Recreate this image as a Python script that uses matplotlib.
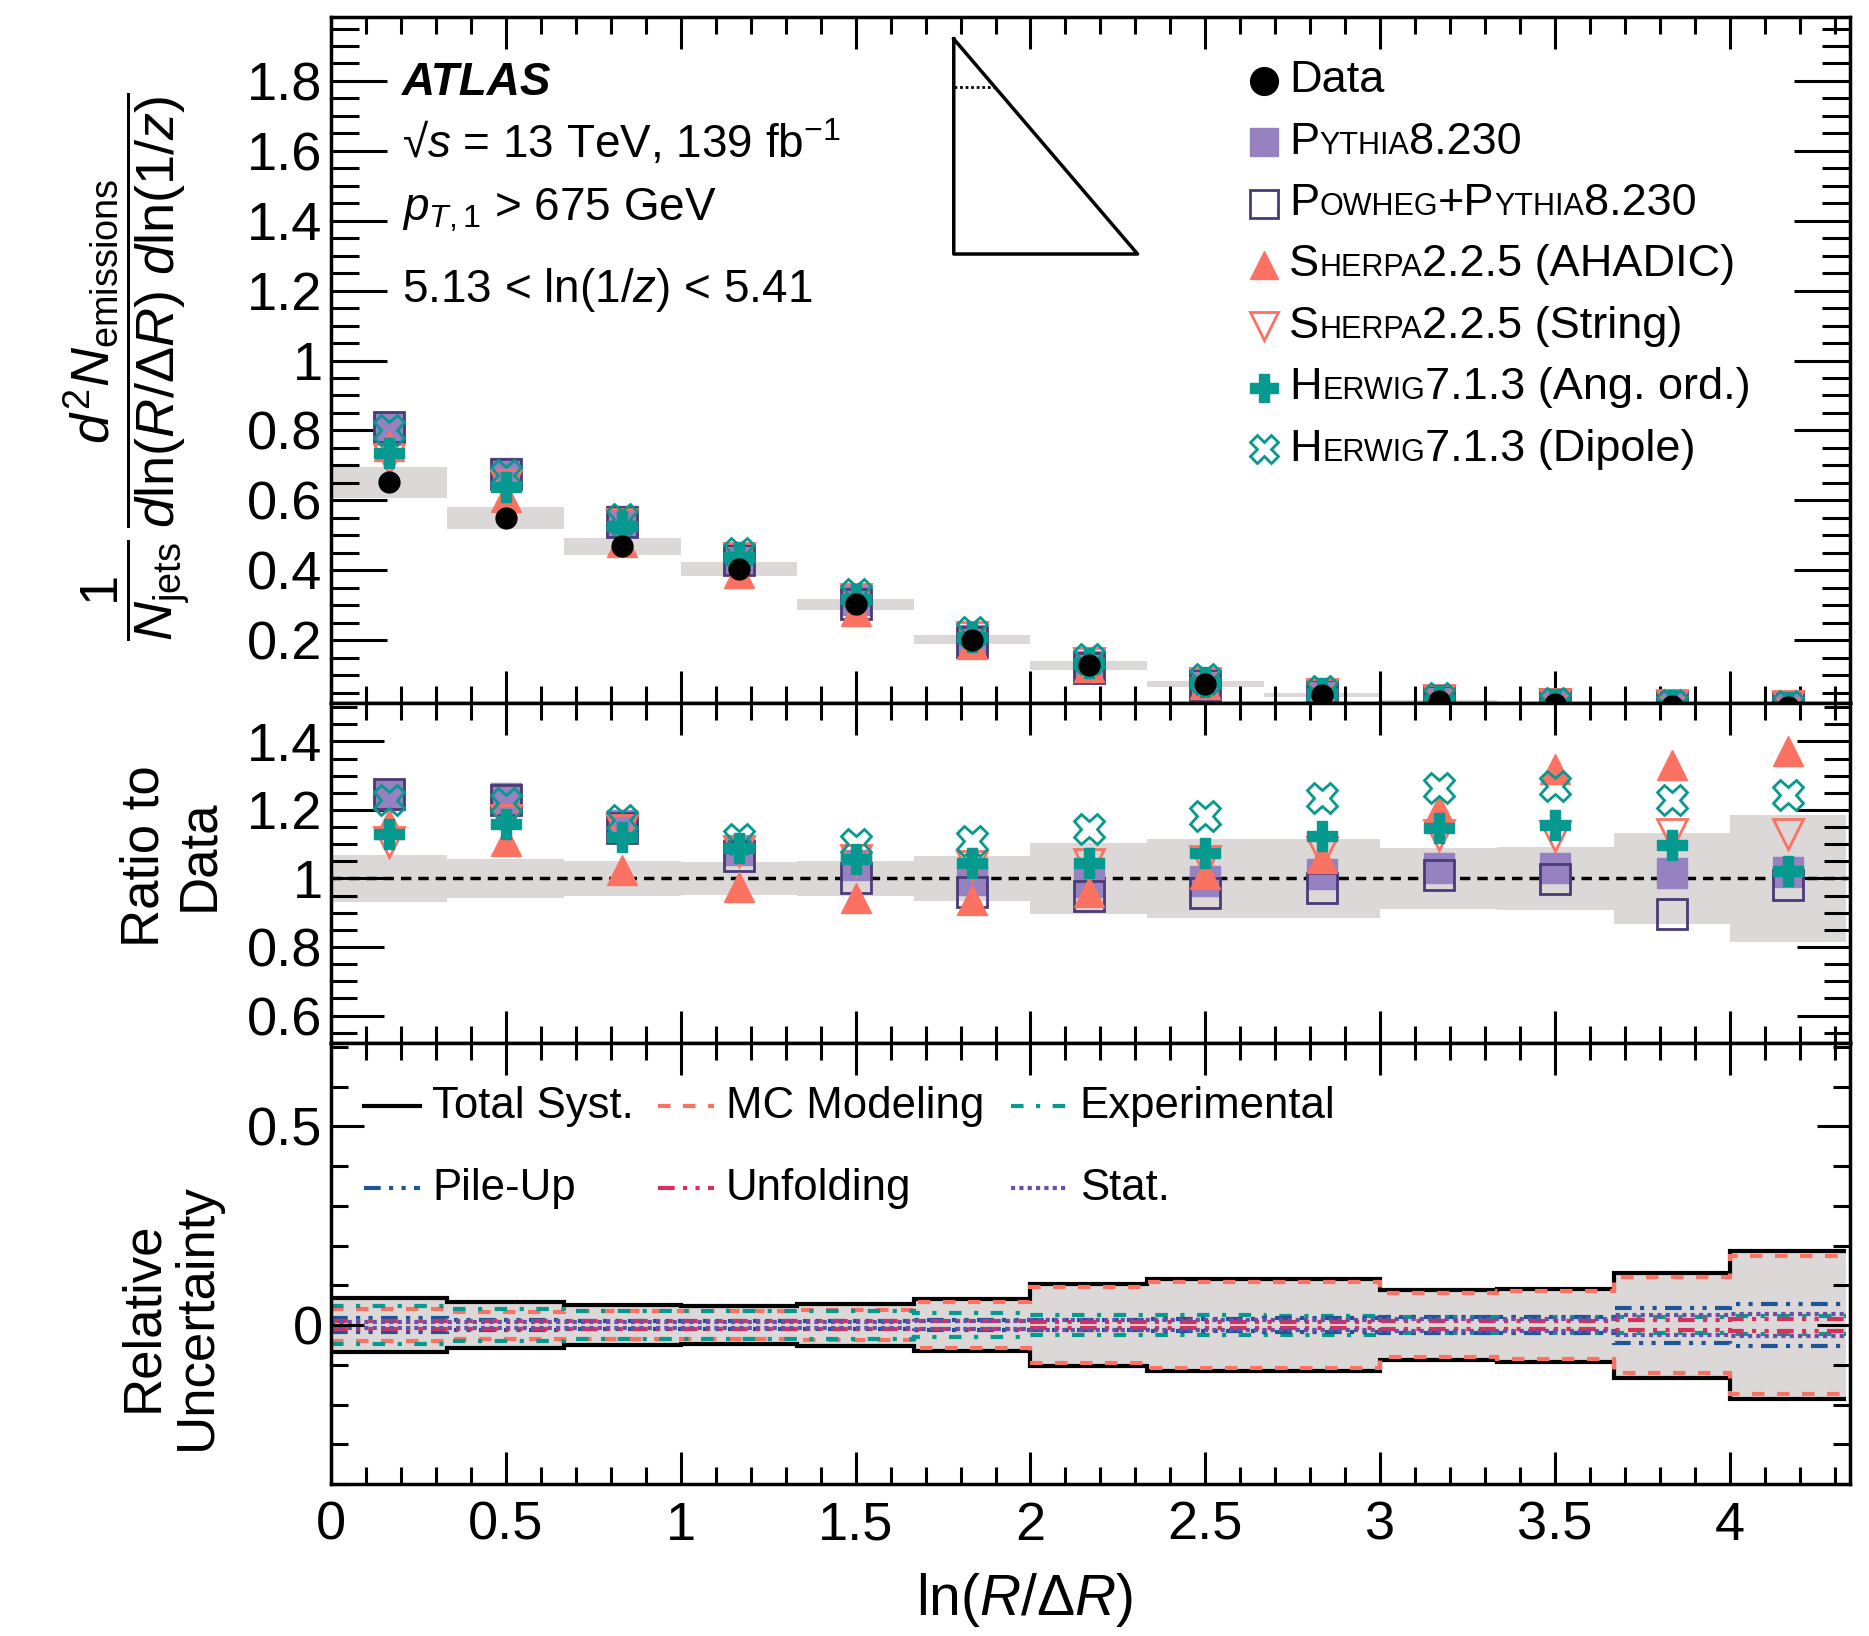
import numpy as np
import matplotlib
matplotlib.use('Agg')
import matplotlib.pyplot as plt
from matplotlib.ticker import MultipleLocator, FuncFormatter
from matplotlib.offsetbox import TextArea, HPacker, AnchoredOffsetbox

plt.rcParams['font.family'] = ['Liberation Sans', 'DejaVu Sans']
plt.rcParams['mathtext.fontset'] = 'custom'
plt.rcParams['mathtext.rm'] = 'Liberation Sans'
plt.rcParams['mathtext.it'] = 'Liberation Sans:italic'
plt.rcParams['mathtext.bf'] = 'Liberation Sans:bold'

# ---- data ----
bin_edges = [0.0, 0.333, 0.667, 1.0, 1.333, 1.667, 2.0, 2.333, 2.667, 3.0, 3.333, 3.667, 4.0, 4.333]
bin_centers = [0.167, 0.5, 0.833, 1.167, 1.5, 1.833, 2.167, 2.5, 2.833, 3.167, 3.5, 3.833, 4.167]

data_vals = [0.651, 0.550, 0.468, 0.403, 0.302, 0.201, 0.128, 0.074, 0.043, 0.026, 0.016, 0.012, 0.009]
# total relative uncertainty (band)
unc_total = [0.068, 0.058, 0.051, 0.048, 0.052, 0.066, 0.103, 0.115, 0.115, 0.089, 0.092, 0.132, 0.186]
unc_mc = [0.040, 0.034, 0.035, 0.035, 0.038, 0.058, 0.096, 0.109, 0.109, 0.081, 0.085, 0.121, 0.174]
unc_exp = [0.048, 0.040, 0.035, 0.035, 0.035, 0.030, 0.026, 0.025, 0.024, 0.020, 0.020, 0.020, 0.022]
unc_pileup = [0.017, 0.012, 0.010, 0.010, 0.010, 0.012, 0.012, 0.015, 0.018, 0.020, 0.020, 0.044, 0.052]
unc_unfold = [0.010, 0.010, 0.010, 0.010, 0.010, 0.010, 0.008, 0.008, 0.008, 0.010, 0.010, 0.013, 0.016]
unc_stat = [0.008, 0.008, 0.008, 0.008, 0.008, 0.010, 0.012, 0.012, 0.013, 0.015, 0.016, 0.025, 0.028]

# MC / data
ratio_pythia = [1.244, 1.234, 1.157, 1.082, 1.040, 0.995, 0.990, 0.993, 1.013, 1.031, 1.031, 1.017, 1.019]
ratio_powheg = [1.245, 1.230, 1.147, 1.066, 1.000, 0.961, 0.949, 0.957, 0.971, 1.010, 0.998, 0.897, 0.982]
ratio_ahadic = [1.160, 1.109, 1.025, 0.974, 0.942, 0.936, 0.961, 1.013, 1.060, 1.200, 1.320, 1.332, 1.371]
ratio_string = [1.105, 1.170, 1.140, 1.080, 1.053, 1.037, 1.043, 1.050, 1.078, 1.127, 1.123, 1.131, 1.131]
ratio_angord = [1.130, 1.160, 1.122, 1.088, 1.056, 1.044, 1.044, 1.073, 1.124, 1.147, 1.156, 1.098, 1.023]
ratio_dipole = [1.230, 1.220, 1.170, 1.114, 1.100, 1.109, 1.145, 1.182, 1.236, 1.264, 1.269, 1.228, 1.243]

# ---- colours ----
band_col = '#dcd8d8'
purple = '#9682c0'
purple_dark = '#4a3a78'
salmon = '#fb7262'
teal = '#05998f'
blue = '#1e5596'
crimson = '#d6315c'
violet = '#6b4fa7'

edges = np.array(bin_edges)
x = np.array(bin_centers)
dv = np.array(data_vals)
ut = np.array(unc_total)

ms = 22
mc_styles = [
    (ratio_pythia, dict(marker='s', mfc=purple, mec=purple, ms=ms)),
    (ratio_powheg, dict(marker='s', mfc='none', mec=purple_dark, mew=2, ms=ms)),
    (ratio_ahadic, dict(marker='^', mfc=salmon, mec=salmon, ms=ms)),
    (ratio_string, dict(marker='v', mfc='none', mec=salmon, mew=2, ms=ms)),
    (ratio_angord, dict(marker='P', mfc=teal, mec=teal, ms=ms)),
    (ratio_dipole, dict(marker='X', mfc='none', mec=teal, mew=2, ms=ms)),
]

fig = plt.figure(figsize=(18.69, 16.36), dpi=100)
ax1 = fig.add_axes([0.1771, 0.5703, 0.8127, 0.4193])
ax2 = fig.add_axes([0.1771, 0.3625, 0.8127, 0.2078])
ax3 = fig.add_axes([0.1771, 0.0929, 0.8127, 0.2696])

fmt = FuncFormatter(lambda v, p: '%g' % v)
for ax, ymaj, ymin, ylen in [(ax1, 0.2, 0.05, 40), (ax2, 0.2, 0.05, 38), (ax3, 0.5, 0.1, 24)]:
    ax.set_xlim(0, 4.343)
    ax.xaxis.set_major_locator(MultipleLocator(0.5))
    ax.xaxis.set_minor_locator(MultipleLocator(0.1))
    ax.yaxis.set_major_locator(MultipleLocator(ymaj))
    ax.yaxis.set_minor_locator(MultipleLocator(ymin))
    ax.xaxis.set_major_formatter(fmt)
    ax.yaxis.set_major_formatter(fmt)
    ax.tick_params(which='both', direction='in', top=True, right=True, width=2.2,
                   labelsize=39)
    ax.tick_params(axis='x', which='major', length=23, pad=12)
    ax.tick_params(axis='x', which='minor', length=12)
    ax.tick_params(axis='y', which='major', length=ylen, pad=6)
    ax.tick_params(axis='y', which='minor', length=ylen / 2)
    for s in ax.spines.values():
        s.set_linewidth(2.5)
for ax in (ax1, ax2):
    ax.tick_params(axis='x', labelbottom=False)

# ---- top panel ----
ax1.set_ylim(0.02, 1.983)
ax1.stairs(dv * (1 + ut), edges, baseline=dv * (1 - ut), fill=True, color=band_col, lw=0)
for r, kw in mc_styles:
    ax1.plot(x, dv * np.array(r), ls='none', **kw)
ax1.plot(x, dv, ls='none', marker='o', color='black', ms=15)

tr = ax1.transAxes
ax1.text(0.047, 0.886, 'ATLAS', transform=tr, fontsize=33, fontweight='bold', style='italic')
ax1.text(0.047, 0.795, '√$s$ = 13 TeV, 139 fb$^{-1}$', transform=tr, fontsize=33)
ax1.text(0.047, 0.704, '$p_{T,1}$ > 675 GeV', transform=tr, fontsize=33)
ax1.text(0.047, 0.585, '5.13 < ln(1/$z$) < 5.41', transform=tr, fontsize=33)

# Lund plane sketch
tri_x = [0.410, 0.410, 0.531, 0.410]
tri_y = [0.968, 0.6545, 0.6545, 0.968]
ax1.plot(tri_x, tri_y, color='black', lw=2.5, transform=tr, clip_on=False)
ax1.plot([0.410, 0.437], [0.898, 0.898], color='black', lw=2, ls=(0, (1, 1)), transform=tr)

# legend (manual, small caps names)
big, small = 32.5, 22
legend_rows = [
    (dict(marker='o', color='black', ms=20), [('Data', big)]),
    (mc_styles[0][1], [('P', big), ('YTHIA', small), ('8.230', big)]),
    (mc_styles[1][1], [('P', big), ('OWHEG', small), ('+P', big), ('YTHIA', small), ('8.230', big)]),
    (mc_styles[2][1], [('S', big), ('HERPA', small), ('2.2.5 (AHADIC)', big)]),
    (mc_styles[3][1], [('S', big), ('HERPA', small), ('2.2.5 (String)', big)]),
    (mc_styles[4][1], [('H', big), ('ERWIG', small), ('7.1.3 (Ang. ord.)', big)]),
    (mc_styles[5][1], [('H', big), ('ERWIG', small), ('7.1.3 (Dipole)', big)]),
]
for i, (mkw, parts) in enumerate(legend_rows):
    yrow = 0.907 - i * 0.0895
    kw = dict(mkw)
    kw['ms'] = 20
    ax1.plot([0.614], [yrow], ls='none', transform=tr, clip_on=False, **kw)
    pieces = [TextArea(t, textprops=dict(fontsize=s)) for t, s in parts]
    box = HPacker(children=pieces, align='baseline', pad=0, sep=0)
    ab = AnchoredOffsetbox(loc='center left', child=box, pad=0, borderpad=0,
                           bbox_to_anchor=(0.631, yrow), bbox_transform=tr, frameon=False)
    ax1.add_artist(ab)

# ---- ratio panel ----
ax2.set_ylim(0.52, 1.512)
ax2.stairs(1 + ut, edges, baseline=1 - ut, fill=True, color=band_col, lw=0)
ax2.axhline(1.0, color='black', lw=2.5, ls=(0, (3, 2)))
for r, kw in mc_styles:
    ax2.plot(x, r, ls='none', **kw)

# ---- uncertainty panel ----
ax3.set_ylim(-0.4, 0.71)
ax3.stairs(ut, edges, baseline=-ut, fill=True, color=band_col, lw=0)
unc_lines = [
    ('Total Syst.', unc_total, dict(color='black', ls='-', lw=3)),
    ('MC Modeling', unc_mc, dict(color=salmon, ls=(0, (3, 3)), lw=3)),
    ('Experimental', unc_exp, dict(color=teal, ls=(0, (3, 3, 1, 3)), lw=3)),
    ('Pile-Up', unc_pileup, dict(color=blue, ls=(0, (4, 2, 1, 2, 1, 2)), lw=3)),
    ('Unfolding', unc_unfold, dict(color=crimson, ls=(0, (4, 2, 1, 2, 1, 2)), lw=3)),
    ('Stat.', unc_stat, dict(color=violet, ls=(0, (1, 1)), lw=3)),
]
for name, u, kw in unc_lines:
    u = np.array(u)
    ax3.stairs(u, edges, baseline=None, **kw)
    ax3.stairs(-u, edges, baseline=None, **kw)

leg_pos = [(0.0217, 0.857), (0.215, 0.857), (0.448, 0.857),
           (0.0217, 0.671), (0.215, 0.671), (0.448, 0.671)]
tr3 = ax3.transAxes
for (name, u, kw), (lx, ly) in zip(unc_lines, leg_pos):
    ax3.plot([lx, lx + 0.037], [ly, ly], transform=tr3, **kw)
    ax3.text(lx + 0.045, ly, name, transform=tr3, fontsize=31.5, va='center')

# ---- axis titles ----
fig.text(0.068, 0.776,
         r'$\dfrac{1}{N_{\mathrm{jets}}}\,\dfrac{d^{2}N_{\mathrm{emissions}}}{d\mathrm{ln}(R/\Delta R)\ d\mathrm{ln}(1/z)}$',
         rotation=90, ha='center', va='center', fontsize=39)
fig.text(0.092, 0.477, 'Ratio to\nData', rotation=90, ha='center', va='center',
         fontsize=38, linespacing=1.1)
fig.text(0.091, 0.195, 'Relative\nUncertainty', rotation=90, ha='center', va='center',
         fontsize=38, linespacing=1.1)
fig.text(0.548, 0.022, r'ln($R$/Δ$R$)', ha='center', va='center', fontsize=41)

fig.savefig('out.png', dpi=100)
